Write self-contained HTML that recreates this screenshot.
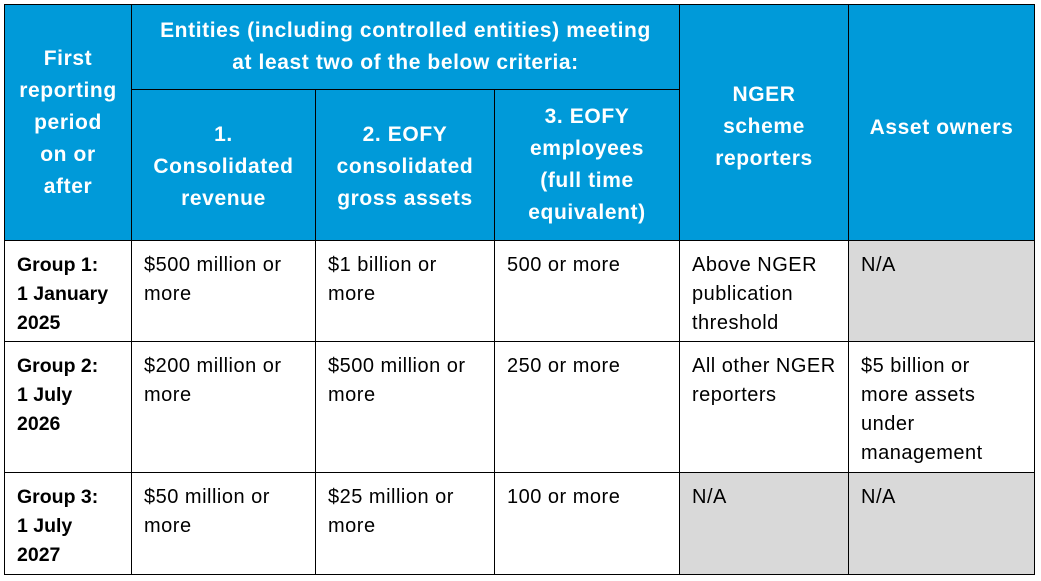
<!DOCTYPE html>
<html><head><style>
body{margin:0;width:1041px;height:581px;background:#fff;position:relative;overflow:hidden;font-family:"Liberation Sans",Arial,sans-serif;}
.c{position:absolute;box-sizing:border-box;border:1px solid #000;}
.h{background:#009AD9;color:#fff;font-weight:bold;font-size:21px;letter-spacing:0.6px;line-height:32px;display:flex;align-items:center;justify-content:center;text-align:center;white-space:nowrap;}
.b{color:#000;font-size:20px;letter-spacing:0.5px;line-height:29px;padding:10px 0 0 12px;white-space:nowrap;}
.bb{font-weight:bold;letter-spacing:0;font-size:19.5px;}
.g{background:#D9D9D9;}
</style></head><body>
<div class="c h" style="left:4px;top:4px;width:128px;height:237px;">First<br>reporting<br>period<br>on or<br>after</div>
<div class="c h" style="left:131px;top:4px;width:549px;height:86px;">Entities (including controlled entities) meeting<br>at least two of the below criteria:</div>
<div class="c h" style="left:131px;top:89px;width:185px;height:152px;padding-top:4px;">1.<br>Consolidated<br>revenue</div>
<div class="c h" style="left:315px;top:89px;width:180px;height:152px;padding-top:4px;">2. EOFY<br>consolidated<br>gross assets</div>
<div class="c h" style="left:494px;top:89px;width:186px;height:152px;">3. EOFY<br>employees<br>(full time<br>equivalent)</div>
<div class="c h" style="left:679px;top:4px;width:170px;height:237px;padding-top:8px;">NGER<br>scheme<br>reporters</div>
<div class="c h" style="left:848px;top:4px;width:187px;height:237px;padding-top:10px;">Asset owners</div>

<div class="c b bb" style="left:4px;top:240px;width:128px;height:102px;">Group 1:<br>1 January<br>2025</div>
<div class="c b" style="left:131px;top:240px;width:185px;height:102px;">$500 million or<br>more</div>
<div class="c b" style="left:315px;top:240px;width:180px;height:102px;">$1 billion or<br>more</div>
<div class="c b" style="left:494px;top:240px;width:186px;height:102px;">500 or more</div>
<div class="c b" style="left:679px;top:240px;width:170px;height:102px;">Above NGER<br>publication<br>threshold</div>
<div class="c b g" style="left:848px;top:240px;width:187px;height:102px;">N/A</div>

<div class="c b bb" style="left:4px;top:341px;width:128px;height:132px;">Group 2:<br>1 July<br>2026</div>
<div class="c b" style="left:131px;top:341px;width:185px;height:132px;">$200 million or<br>more</div>
<div class="c b" style="left:315px;top:341px;width:180px;height:132px;">$500 million or<br>more</div>
<div class="c b" style="left:494px;top:341px;width:186px;height:132px;">250 or more</div>
<div class="c b" style="left:679px;top:341px;width:170px;height:132px;">All other NGER<br>reporters</div>
<div class="c b" style="left:848px;top:341px;width:187px;height:132px;">$5 billion or<br>more assets<br>under<br>management</div>

<div class="c b bb" style="left:4px;top:472px;width:128px;height:103px;">Group 3:<br>1 July<br>2027</div>
<div class="c b" style="left:131px;top:472px;width:185px;height:103px;">$50 million or<br>more</div>
<div class="c b" style="left:315px;top:472px;width:180px;height:103px;">$25 million or<br>more</div>
<div class="c b" style="left:494px;top:472px;width:186px;height:103px;">100 or more</div>
<div class="c b g" style="left:679px;top:472px;width:170px;height:103px;">N/A</div>
<div class="c b g" style="left:848px;top:472px;width:187px;height:103px;">N/A</div>
</body></html>
